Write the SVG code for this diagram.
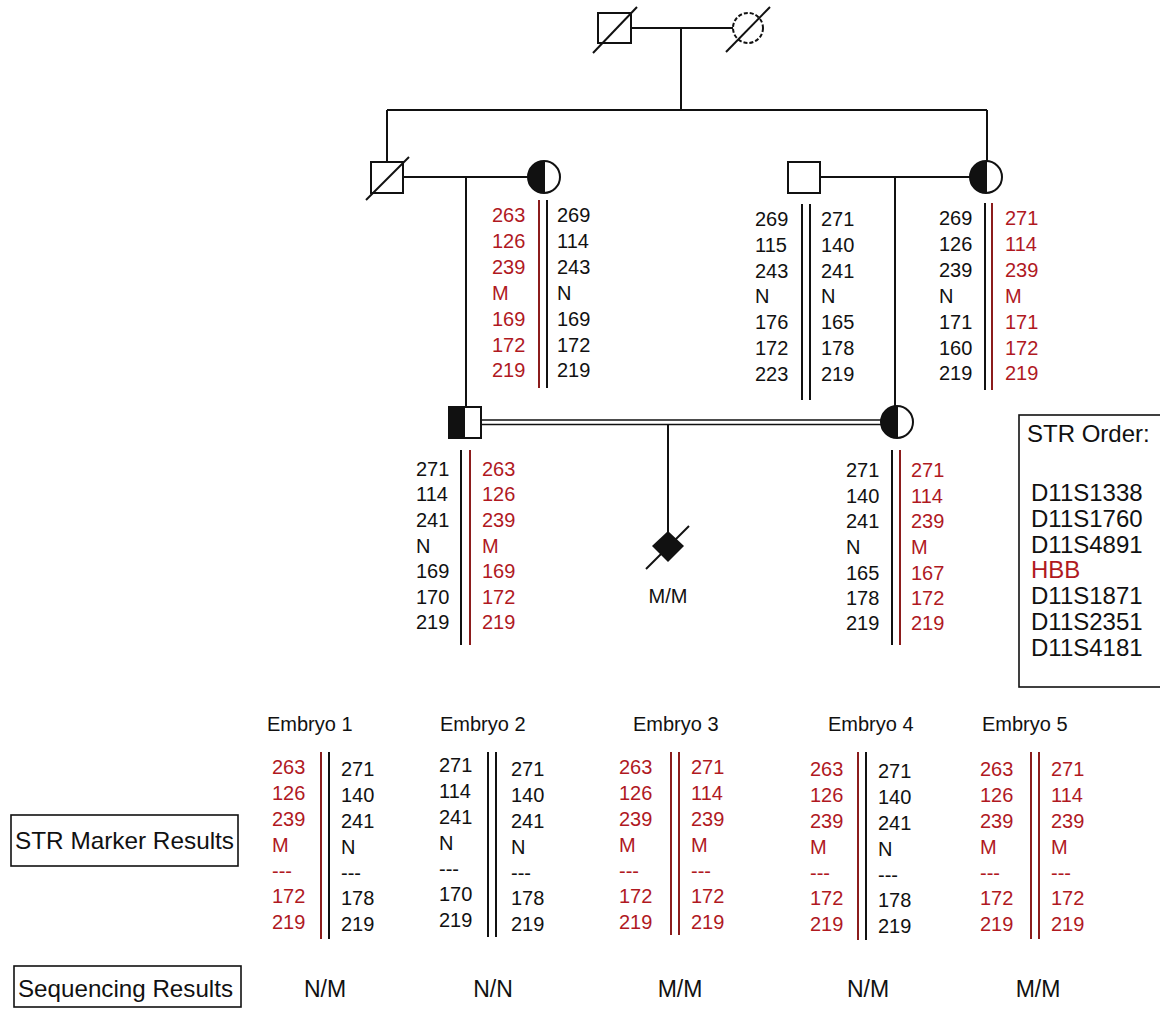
<svg xmlns="http://www.w3.org/2000/svg" width="1160" height="1009" viewBox="0 0 1160 1009">
<style>
text{font-family:"Liberation Sans",Arial,sans-serif;font-size:20px;fill:#111}
.r{fill:#b0191f}
.h{font-size:20px}
.big{font-size:24px}
.so{font-size:24px}
.sq{font-size:23px}
.sym{fill:#fff;stroke:#111;stroke-width:2}
.blk{fill:#111;stroke:none}
.ln{stroke:#111;stroke-width:2;fill:none}
.al{stroke:#111;stroke-width:2}
.ar{stroke:#8b1c1c;stroke-width:2}
.box{fill:none;stroke:#111;stroke-width:1.6}
</style>
<rect width="1160" height="1009" fill="#fff"/>
<g id="connectors">
<line class="ln" x1="631" y1="28" x2="733" y2="28"/>
<line class="ln" x1="681" y1="28" x2="681" y2="110"/>
<line class="ln" x1="387" y1="110" x2="987" y2="110"/>
<line class="ln" x1="387" y1="110" x2="387" y2="162"/>
<line class="ln" x1="987" y1="110" x2="987" y2="161"/>
<line class="ln" x1="403" y1="177" x2="528" y2="177"/>
<line class="ln" x1="466" y1="177" x2="466" y2="407"/>
<line class="ln" x1="820" y1="177" x2="970" y2="177"/>
<line class="ln" x1="895" y1="177" x2="895" y2="406"/>
<line x1="481" y1="420" x2="881" y2="420" stroke="#111" stroke-width="1.6"/>
<line x1="481" y1="424.5" x2="881" y2="424.5" stroke="#111" stroke-width="1.6"/>
<line class="ln" x1="668" y1="424" x2="668" y2="532"/>
</g>
<g id="grandfather">
<rect class="sym" x="598" y="13" width="33" height="30"/>
<line class="ln" x1="593" y1="53" x2="637" y2="7"/>
</g>
<g id="grandmother">
<circle cx="748" cy="28" r="15" fill="#fff" stroke="#111" stroke-width="2" stroke-dasharray="4,2"/>
<line class="ln" x1="726" y1="52" x2="770" y2="7"/>
</g>
<g id="uncle">
<rect class="sym" x="371" y="162" width="32" height="31"/>
<line class="ln" x1="366" y1="200" x2="409" y2="157"/>
</g>
<g id="aunt-in-law">
<circle class="sym" cx="544" cy="177" r="16"/>
<path class="blk" d="M544 161 A16 16 0 0 0 544 193 Z"/>
<line class="ln" x1="544" y1="161" x2="544" y2="193"/>
</g>
<g id="father-in-law">
<rect class="sym" x="788" y="162" width="32" height="31"/>
</g>
<g id="mother-in-law">
<circle class="sym" cx="986" cy="177" r="16"/>
<path class="blk" d="M986 161 A16 16 0 0 0 986 193 Z"/>
<line class="ln" x1="986" y1="161" x2="986" y2="193"/>
</g>
<g id="husband">
<rect class="sym" x="449" y="407" width="32" height="31"/>
<rect class="blk" x="449" y="407" width="16" height="31"/>
</g>
<g id="wife">
<circle class="sym" cx="897" cy="422" r="16"/>
<path class="blk" d="M897 406 A16 16 0 0 0 897 438 Z"/>
<line class="ln" x1="897" y1="406" x2="897" y2="438"/>
</g>
<g id="fetus">
<polygon points="668,531 684,546 668,562 652,546" fill="#111"/>
<line class="ln" x1="646" y1="569" x2="689" y2="526" stroke-width="1.6"/>
<text x="668" y="603" text-anchor="middle" class="h">M/M</text>
</g>
<g id="haplo-aunt">
<line class="ar" x1="539" y1="200" x2="539" y2="388"/>
<line class="al" x1="547" y1="200" x2="547" y2="388"/>
<text class="r" x="492" y="222">263</text><text class="r" x="492" y="248">126</text><text class="r" x="492" y="274">239</text><text class="r" x="492" y="300">M</text><text class="r" x="492" y="326">169</text><text class="r" x="492" y="352">172</text><text class="r" x="492" y="377">219</text>
<text x="557" y="222">269</text><text x="557" y="248">114</text><text x="557" y="274">243</text><text x="557" y="300">N</text><text x="557" y="326">169</text><text x="557" y="352">172</text><text x="557" y="377">219</text>
</g>
<g id="haplo-father-in-law">
<line class="al" x1="802" y1="204" x2="802" y2="400"/>
<line class="al" x1="810" y1="204" x2="810" y2="400"/>
<text x="755" y="226">269</text><text x="755" y="252">115</text><text x="755" y="278">243</text><text x="755" y="303">N</text><text x="755" y="329">176</text><text x="755" y="355">172</text><text x="755" y="381">223</text>
<text x="821" y="226">271</text><text x="821" y="252">140</text><text x="821" y="278">241</text><text x="821" y="303">N</text><text x="821" y="329">165</text><text x="821" y="355">178</text><text x="821" y="381">219</text>
</g>
<g id="haplo-mother-in-law">
<line class="al" x1="985" y1="203" x2="985" y2="390"/>
<line class="ar" x1="992" y1="203" x2="992" y2="390"/>
<text x="939" y="225">269</text><text x="939" y="251">126</text><text x="939" y="277">239</text><text x="939" y="303">N</text><text x="939" y="329">171</text><text x="939" y="355">160</text><text x="939" y="380">219</text>
<text class="r" x="1005" y="225">271</text><text class="r" x="1005" y="251">114</text><text class="r" x="1005" y="277">239</text><text class="r" x="1005" y="303">M</text><text class="r" x="1005" y="329">171</text><text class="r" x="1005" y="355">172</text><text class="r" x="1005" y="380">219</text>
</g>
<g id="haplo-husband">
<line class="al" x1="461" y1="450" x2="461" y2="645"/>
<line class="ar" x1="470" y1="450" x2="470" y2="645"/>
<text x="416" y="476">271</text><text x="416" y="501">114</text><text x="416" y="527">241</text><text x="416" y="553">N</text><text x="416" y="578">169</text><text x="416" y="604">170</text><text x="416" y="629">219</text>
<text class="r" x="482" y="476">263</text><text class="r" x="482" y="501">126</text><text class="r" x="482" y="527">239</text><text class="r" x="482" y="553">M</text><text class="r" x="482" y="578">169</text><text class="r" x="482" y="604">172</text><text class="r" x="482" y="629">219</text>
</g>
<g id="haplo-wife">
<line class="al" x1="892" y1="450" x2="892" y2="645"/>
<line class="ar" x1="900" y1="450" x2="900" y2="645"/>
<text x="846" y="477">271</text><text x="846" y="503">140</text><text x="846" y="528">241</text><text x="846" y="554">N</text><text x="846" y="580">165</text><text x="846" y="605">178</text><text x="846" y="630">219</text>
<text class="r" x="911" y="477">271</text><text class="r" x="911" y="503">114</text><text class="r" x="911" y="528">239</text><text class="r" x="911" y="554">M</text><text class="r" x="911" y="580">167</text><text class="r" x="911" y="605">172</text><text class="r" x="911" y="630">219</text>
</g>
<g id="str-order">
<rect class="box" x="1019" y="415" width="150" height="272"/>
<text class="so" x="1027" y="442">STR  Order:</text>
<text class="so" x="1031" y="501">D11S1338</text>
<text class="so" x="1031" y="527">D11S1760</text>
<text class="so" x="1031" y="553">D11S4891</text>
<text class="so r" x="1031" y="578">HBB</text>
<text class="so" x="1031" y="604">D11S1871</text>
<text class="so" x="1031" y="630">D11S2351</text>
<text class="so" x="1031" y="656">D11S4181</text>
</g>
<g id="embryo1">
<text class="h" x="267" y="731">Embryo 1</text>
<line class="ar" x1="321" y1="752" x2="321" y2="939"/>
<line class="al" x1="329" y1="752" x2="329" y2="939"/>
<text class="r" x="272" y="774">263</text><text class="r" x="272" y="800">126</text><text class="r" x="272" y="826">239</text><text class="r" x="272" y="852">M</text><text class="r" x="272" y="878">---</text><text class="r" x="272" y="903">172</text><text class="r" x="272" y="929">219</text>
<text x="341" y="776">271</text><text x="341" y="802">140</text><text x="341" y="828">241</text><text x="341" y="854">N</text><text x="341" y="880">---</text><text x="341" y="905">178</text><text x="341" y="931">219</text>
</g>
<g id="embryo2">
<text class="h" x="440" y="731">Embryo 2</text>
<line class="al" x1="488" y1="752" x2="488" y2="937"/>
<line class="al" x1="496" y1="752" x2="496" y2="937"/>
<text x="439" y="772">271</text><text x="439" y="798">114</text><text x="439" y="824">241</text><text x="439" y="850">N</text><text x="439" y="876">---</text><text x="439" y="901">170</text><text x="439" y="927">219</text>
<text x="511" y="776">271</text><text x="511" y="802">140</text><text x="511" y="828">241</text><text x="511" y="854">N</text><text x="511" y="880">---</text><text x="511" y="905">178</text><text x="511" y="931">219</text>
</g>
<g id="embryo3">
<text class="h" x="633" y="731">Embryo 3</text>
<line class="ar" x1="671" y1="752" x2="671" y2="935"/>
<line class="ar" x1="679" y1="752" x2="679" y2="935"/>
<text class="r" x="619" y="774">263</text><text class="r" x="619" y="800">126</text><text class="r" x="619" y="826">239</text><text class="r" x="619" y="852">M</text><text class="r" x="619" y="878">---</text><text class="r" x="619" y="903">172</text><text class="r" x="619" y="929">219</text>
<text class="r" x="691" y="774">271</text><text class="r" x="691" y="800">114</text><text class="r" x="691" y="826">239</text><text class="r" x="691" y="852">M</text><text class="r" x="691" y="878">---</text><text class="r" x="691" y="903">172</text><text class="r" x="691" y="929">219</text>
</g>
<g id="embryo4">
<text class="h" x="828" y="731">Embryo 4</text>
<line class="ar" x1="858" y1="752" x2="858" y2="940"/>
<line class="al" x1="866" y1="752" x2="866" y2="940"/>
<text class="r" x="810" y="776">263</text><text class="r" x="810" y="802">126</text><text class="r" x="810" y="828">239</text><text class="r" x="810" y="854">M</text><text class="r" x="810" y="880">---</text><text class="r" x="810" y="905">172</text><text class="r" x="810" y="931">219</text>
<text x="878" y="778">271</text><text x="878" y="804">140</text><text x="878" y="830">241</text><text x="878" y="856">N</text><text x="878" y="882">---</text><text x="878" y="907">178</text><text x="878" y="933">219</text>
</g>
<g id="embryo5">
<text class="h" x="982" y="731">Embryo 5</text>
<line class="ar" x1="1031" y1="752" x2="1031" y2="939"/>
<line class="ar" x1="1039" y1="752" x2="1039" y2="939"/>
<text class="r" x="980" y="776">263</text><text class="r" x="980" y="802">126</text><text class="r" x="980" y="828">239</text><text class="r" x="980" y="854">M</text><text class="r" x="980" y="880">---</text><text class="r" x="980" y="905">172</text><text class="r" x="980" y="931">219</text>
<text class="r" x="1051" y="776">271</text><text class="r" x="1051" y="802">114</text><text class="r" x="1051" y="828">239</text><text class="r" x="1051" y="854">M</text><text class="r" x="1051" y="880">---</text><text class="r" x="1051" y="905">172</text><text class="r" x="1051" y="931">219</text>
</g>
<g id="str-results-label">
<rect class="box" x="11" y="815" width="227" height="51"/>
<text class="big" x="15" y="849" textLength="219" lengthAdjust="spacingAndGlyphs">STR Marker Results</text>
</g>
<g id="seq-results-label">
<rect class="box" x="14" y="966" width="227" height="41"/>
<text class="big" x="18" y="997" textLength="215" lengthAdjust="spacingAndGlyphs">Sequencing Results</text>
</g>
<g id="seq-results">
<text class="sq" x="325" y="997" text-anchor="middle">N/M</text>
<text class="sq" x="493" y="997" text-anchor="middle">N/N</text>
<text class="sq" x="680" y="997" text-anchor="middle">M/M</text>
<text class="sq" x="868" y="997" text-anchor="middle">N/M</text>
<text class="sq" x="1038" y="997" text-anchor="middle">M/M</text>
</g>
</svg>
